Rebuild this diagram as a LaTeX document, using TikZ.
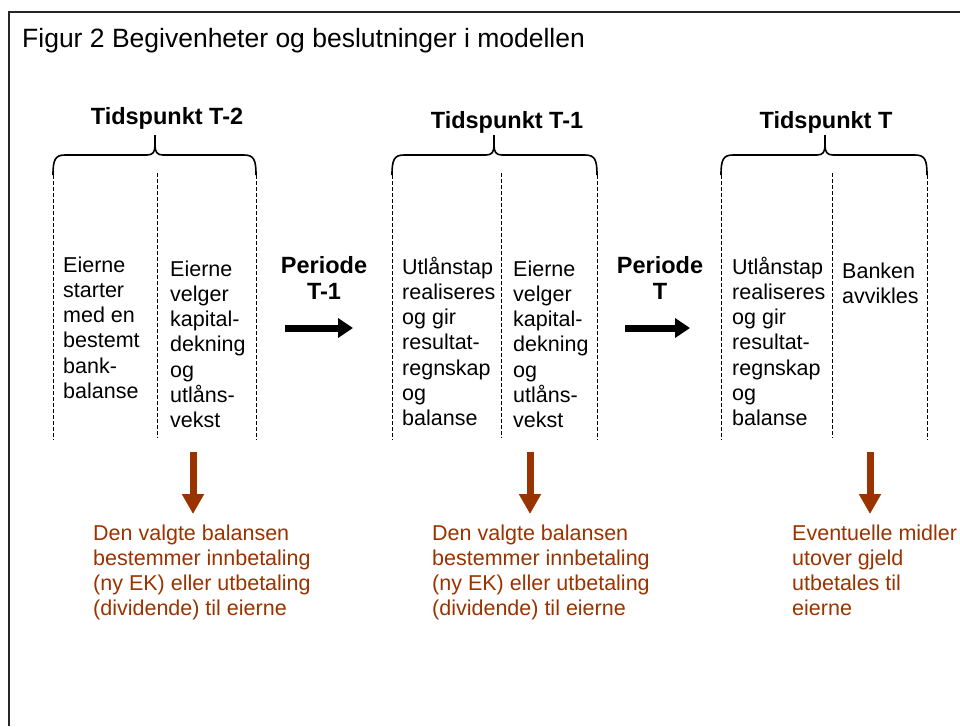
\documentclass[tikz,border=0pt]{standalone}
\usepackage{fontspec}
\setmainfont{Liberation Sans}
\usetikzlibrary{arrows.meta}
\definecolor{brn}{HTML}{993300}
\begin{document}
\begin{tikzpicture}[x=1pt,y=-1pt,
  body/.style={anchor=base west, align=left, inner sep=0pt, font=\fontsize{21.5}{25.3}\selectfont},
  head/.style={anchor=base, inner sep=0pt, font=\fontsize{23.5}{26}\selectfont\bfseries},
  note/.style={body, text=brn},
  brace/.style={line width=1.6pt},
  sep/.style={line width=0.8pt, dash pattern=on 3.5pt off 2.5pt},
  per/.style={line width=7pt, -{Triangle[length=15pt,width=19pt]}},
  down/.style={brn, line width=7pt, -{Triangle[length=20pt,width=21pt]}},
]
\useasboundingbox (0,0) rectangle (960,726);
% frame
\draw[line width=1.5pt, black!85] (9,726) -- (9,12) -- (960,12);
\node[anchor=base west, inner sep=0pt, font=\fontsize{26.5}{30}\selectfont] (title) at (22,47) {Figur 2 Begivenheter og beslutninger i modellen};

% headers
\node[head] (h1) at (167,124) {Tidspunkt T-2};
\node[head] (h2) at (507,128) {Tidspunkt T-1};
\node[head] (h3) at (826,128) {Tidspunkt T};

% braces
\draw[brace] (53,175) .. controls (53,160) and (55,155) .. (65,155) -- (147,155) .. controls (153,155) and (155,152) .. (155,145) -- (155,135);
\draw[brace] (155,145) .. controls (155,152) and (157,155) .. (163,155) -- (244,155) .. controls (254,155) and (256,160) .. (256,175);
\draw[brace] (392,175) .. controls (392,160) and (394,155) .. (404,155) -- (486,155) .. controls (492,155) and (494,152) .. (494,145) -- (494,135);
\draw[brace] (494,145) .. controls (494,152) and (496,155) .. (502,155) -- (585,155) .. controls (595,155) and (597,160) .. (597,175);
\draw[brace] (721,175) .. controls (721,160) and (723,155) .. (733,155) -- (817,155) .. controls (823,155) and (825,152) .. (825,145) -- (825,135);
\draw[brace] (825,145) .. controls (825,152) and (827,155) .. (833,155) -- (915,155) .. controls (925,155) and (927,160) .. (927,175);

% dashed separators
\draw[sep] (53,175) -- (53,440);
\draw[sep] (157,173) -- (157,438);
\draw[sep] (256,175) -- (256,440);
\draw[sep] (392,175) -- (392,440);
\draw[sep] (501,173) -- (501,438);
\draw[sep] (597,175) -- (597,440);
\draw[sep] (721,175) -- (721,440);
\draw[sep] (832,173) -- (832,438);
\draw[sep] (927,175) -- (927,440);

% column texts (anchor = baseline of last line)
\node[body] (a1) at (63,398.5) {Eierne\\starter\\med en\\bestemt\\bank-\\balanse};
\node[body] (a2) at (170,427.8) {Eierne\\velger\\kapital-\\dekning\\og\\utlåns-\\vekst};
\node[body] (b1) at (402,425.8) {Utlånstap\\realiseres\\og gir\\resultat-\\regnskap\\og\\balanse};
\node[body] (b2) at (513,427.8) {Eierne\\velger\\kapital-\\dekning\\og\\utlåns-\\vekst};
\node[body] (c1) at (732,425.8) {Utlånstap\\realiseres\\og gir\\resultat-\\regnskap\\og\\balanse};
\node[body] (c2) at (842,303.3) {Banken\\avvikles};

% periods
\node[head, align=center] (p1) at (324,299) {Periode\\T-1};
\node[head, align=center] (p2) at (660,299) {Periode\\T};
\coordinate (p1s) at (285,328); \coordinate (p1e) at (353,328);
\coordinate (p2s) at (625,328); \coordinate (p2e) at (690,328);
\draw[per] (p1s) -- (p1e);
\draw[per] (p2s) -- (p2e);

% down arrows
\coordinate (d1s) at (193,452); \coordinate (d1e) at (193,514);
\coordinate (d2s) at (530,452); \coordinate (d2e) at (530,514);
\coordinate (d3s) at (870,452); \coordinate (d3e) at (870,514);
\draw[down] (d1s) -- (d1e);
\draw[down] (d2s) -- (d2e);
\draw[down] (d3s) -- (d3e);

% notes
\node[note] (n1) at (93,615.9) {Den valgte balansen\\bestemmer innbetaling\\(ny EK) eller utbetaling\\(dividende) til eierne};
\node[note] (n2) at (432,615.9) {Den valgte balansen\\bestemmer innbetaling\\(ny EK) eller utbetaling\\(dividende) til eierne};
\node[note] (n3) at (792,615.9) {Eventuelle midler\\utover gjeld\\utbetales til\\eierne};
\end{tikzpicture}
\end{document}
